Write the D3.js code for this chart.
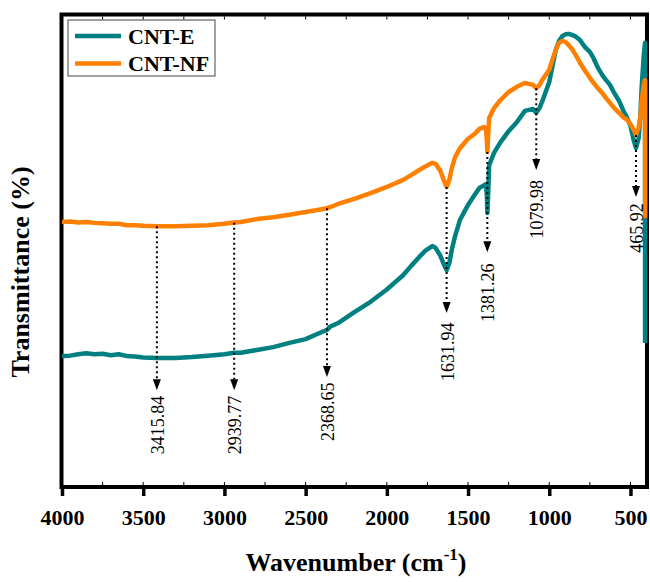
<!DOCTYPE html>
<html><head><meta charset="utf-8">
<script src="https://cdn.jsdelivr.net/npm/d3@7"></script>
<style>body{margin:0;background:#fff}svg{display:block}text{font-family:"Liberation Serif","Times New Roman",serif}</style>
</head><body><svg id="c" width="650" height="582" font-family="Liberation Serif"></svg>
<script>
const wavenumbers = [
  4000, 3950, 3900, 3850, 3800, 3750, 3700, 3650, 3600, 3550,
  3500, 3416, 3300, 3200, 3100, 3000, 2940, 2900, 2800, 2700,
  2600, 2500, 2400, 2370, 2350, 2300, 2200, 2100, 2000, 1900,
  1850, 1800, 1760, 1720, 1700, 1670, 1650, 1632, 1615, 1600,
  1580, 1550, 1500, 1460, 1430, 1400, 1390, 1384, 1381, 1376,
  1370, 1340, 1300, 1250, 1200, 1150, 1100, 1080, 1060, 1040,
  1000, 980, 960, 940, 920, 900, 880, 860, 840, 811,
  780, 750, 731, 700, 670, 650, 626, 600, 570, 546,
  520, 500, 480, 466, 450, 440, 430, 418, 410, 410
];
const cntE = [
  27.7, 27.8, 28.1, 28.3, 28.1, 28.2, 27.9, 28.1, 27.7, 27.6,
  27.4, 27.3, 27.3, 27.5, 27.8, 28.1, 28.4, 28.4, 29.0, 29.6,
  30.5, 31.3, 32.8, 33.2, 33.9, 34.7, 37.0, 39.2, 41.8, 44.8,
  46.8, 48.7, 50.1, 51.0, 50.6, 48.9, 47.2, 45.9, 47.4, 50.2,
  53.1, 56.5, 59.7, 61.8, 63.3, 63.9, 64.1, 61.6, 58.0, 62.2,
  68.1, 70.7, 73.0, 75.3, 77.2, 79.6, 80.0, 79.2, 80.2, 81.9,
  85.7, 89.1, 92.5, 94.4, 95.4, 95.8, 95.9, 95.7, 95.4, 94.6,
  93.1, 92.1, 91.0, 88.7, 87.0, 86.1, 85.1, 83.4, 81.7, 79.8,
  78.1, 76.4, 73.4, 71.7, 73.8, 78.1, 85.1, 91.4, 94.0, 30.5
];
const cntNF = [
  56.1, 56.2, 56.0, 56.1, 55.9, 55.8, 55.7, 55.7, 55.4, 55.4,
  55.3, 55.2, 55.2, 55.3, 55.4, 55.7, 56.0, 56.1, 56.7, 57.1,
  57.6, 58.2, 58.8, 59.0, 59.2, 59.9, 61.0, 62.2, 63.5, 65.0,
  66.0, 67.1, 67.9, 68.6, 68.4, 66.9, 65.0, 63.5, 65.0, 67.5,
  69.8, 71.7, 73.7, 74.7, 75.8, 76.2, 75.8, 73.4, 70.9, 74.5,
  78.1, 80.2, 81.9, 83.6, 84.7, 85.5, 85.1, 84.4, 85.1, 86.3,
  88.3, 90.5, 92.5, 94.0, 94.4, 94.2, 93.5, 92.7, 91.6, 89.8,
  88.1, 86.6, 85.7, 84.4, 83.2, 82.3, 81.3, 80.2, 79.2, 78.3,
  77.7, 76.8, 75.6, 74.5, 76.0, 78.1, 81.9, 85.1, 86.1, 56.9
];
const seriesNames = ["CNT-E", "CNT-NF"];
const seriesColors = ["#008080", "#FF8000"];
const xTicks = [4000, 3500, 3000, 2500, 2000, 1500, 1000, 500];
const minorTicks = d3.range(4000, 399, -250);
const peakWavenumbers = [3415.84, 2939.77, 2368.65, 1631.94, 1381.26, 1079.98, 465.92];
const peakLabels = ["3415.84", "2939.77", "2368.65", "1631.94", "1381.26", "1079.98", "465.92"];
const peakTop = [55.2, 55.9, 59.0, 63.5, 70.9, 84.4, 74.5];
const peakTip = [20.5, 20.5, 23.3, 36.8, 49.7, 67.1, 61.4];
const peakLabelAt = [13.1, 13.1, 15.9, 28.6, 41.1, 58.8, 54.8];

const svg = d3.select("#c");
const L = 62, R = 646.7, T = 14.5, B = 487;
const x = d3.scaleLinear().domain([4000, 400]).range([L, R]);
const y = d3.scaleLinear().domain([0, 100]).range([B, T]);
const serif = "Liberation Serif";

// frame
svg.append("rect").attr("x", 61.5).attr("y", 14.5).attr("width", 585.5).attr("height", B - 14.5)
  .attr("fill", "none").attr("stroke", "#000").attr("stroke-width", 4);

// minor ticks (inside, top and bottom)
minorTicks.forEach(v => {
  svg.append("line").attr("x1", x(v)).attr("x2", x(v)).attr("y1", 16.5).attr("y2", 19.5)
    .attr("stroke", "#000").attr("stroke-width", 1);
  svg.append("line").attr("x1", x(v)).attr("x2", x(v)).attr("y1", B - 2).attr("y2", B - 5)
    .attr("stroke", "#000").attr("stroke-width", 1);
});

// bottom axis
const ax = svg.append("g").attr("transform", `translate(0,${B})`)
  .call(d3.axisBottom(x).tickValues(xTicks).tickFormat(d3.format("d")).tickSize(9).tickPadding(13));
ax.attr("font-family", serif).attr("font-size", 22);
ax.select(".domain").remove();
ax.selectAll(".tick line").attr("stroke", "#000").attr("stroke-width", 3.5);
ax.selectAll(".tick text").attr("fill", "#000").attr("font-family", serif)
  .attr("font-weight", "bold").attr("font-size", 22);

// series
const rows = wavenumbers.map((w, i) => ({w, e: cntE[i], n: cntNF[i]}));
const mk = key => d3.line().x(d => x(d.w)).y(d => y(d[key]));
[["e", 0], ["n", 1]].forEach(([k, i]) => {
  svg.append("path").datum(rows).attr("d", mk(k)).attr("fill", "none")
    .attr("stroke", seriesColors[i]).attr("stroke-width", 4.5)
    .attr("stroke-linejoin", "round").attr("stroke-linecap", "butt");
});

// annotations
peakWavenumbers.forEach((p, i) => {
  const px = x(p);
  svg.append("line").attr("x1", px).attr("x2", px)
    .attr("y1", y(peakTop[i])).attr("y2", y(peakTip[i]) - 9)
    .attr("stroke", "#000").attr("stroke-width", 2).attr("stroke-dasharray", "2,3");
  const ty = y(peakTip[i]);
  svg.append("path").attr("d", `M${px - 4},${ty - 11}L${px + 4},${ty - 11}L${px},${ty}Z`).attr("fill", "#000");
  svg.append("text").attr("transform", `translate(${px + 1},${y(peakLabelAt[i])}) rotate(-90)`)
    .attr("text-anchor", "middle").attr("dominant-baseline", "central")
    .attr("font-family", serif).attr("font-size", 18).text(peakLabels[i]);
});

// legend
const lg = svg.append("g");
lg.append("rect").attr("x", 68).attr("y", 20).attr("width", 147).attr("height", 56)
  .attr("fill", "#fff").attr("stroke", "#444").attr("stroke-width", 1);
seriesNames.forEach((s, i) => {
  const ly = 36 + i * 27.5;
  lg.append("line").attr("x1", 75).attr("x2", 121).attr("y1", ly).attr("y2", ly)
    .attr("stroke", seriesColors[i]).attr("stroke-width", 4.5);
  lg.append("text").attr("x", 128).attr("y", ly + 7.5).attr("font-family", serif)
    .attr("font-weight", "bold").attr("font-size", 22).text(s);
});

// axis titles
const xt = svg.append("text").attr("x", 356).attr("y", 571).attr("text-anchor", "middle")
  .attr("font-family", serif).attr("font-weight", "bold").attr("font-size", 26);
xt.append("tspan").text("Wavenumber (cm");
xt.append("tspan").attr("dy", -11).attr("font-size", 17).text("-1");
xt.append("tspan").attr("dy", 11).text(")");

svg.append("text").attr("transform", "translate(20,272) rotate(-90)")
  .attr("text-anchor", "middle").attr("dominant-baseline", "central")
  .attr("font-family", serif).attr("font-weight", "bold").attr("font-size", 26)
  .text("Transmittance (%)");
</script></body></html>
